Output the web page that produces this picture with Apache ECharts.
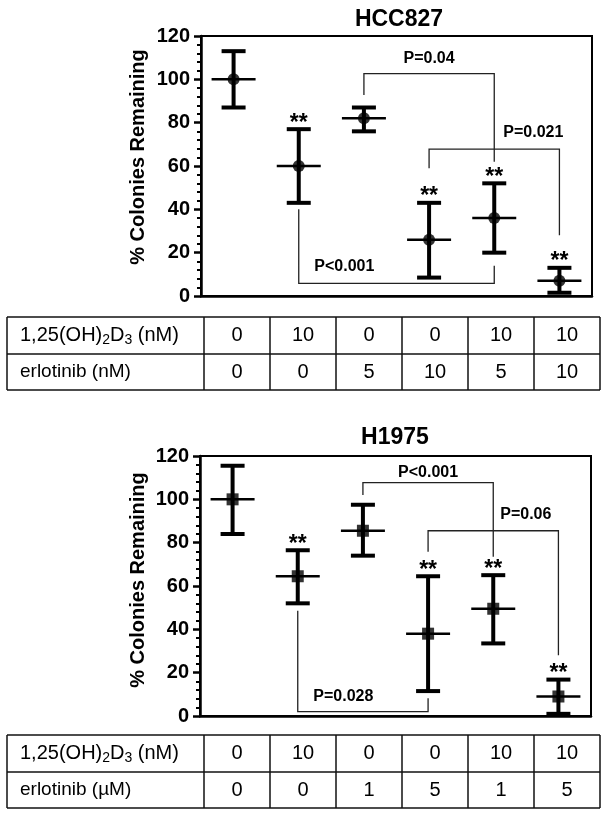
<!DOCTYPE html>
<html>
<head>
<meta charset="utf-8">
<script src="https://cdn.jsdelivr.net/npm/echarts@6/dist/echarts.min.js"></script>
<style>
  html, body { margin: 0; padding: 0; background: #fff; }
  #main { width: 604px; height: 816px; }
</style>
</head>
<body>
<div id="main"></div>
<script>
// treatment groups (one per column of the tables)
var categories = ['g1', 'g2', 'g3', 'g4', 'g5', 'g6'];

// HCC827 - % colonies remaining
var hccMean = [100, 60, 82, 26, 36, 7];
var hccLow = [87, 43, 76, 8.5, 20, 1.5];
var hccHigh = [113, 77, 87, 43, 52, 13];
var hccStars = [0, 1, 0, 1, 1, 1];
// brackets: [fromCat, toCat, barY, fromEndY, toEndY, textCat, textY]
var hccBrackets = [
  [2, 4, 102.6, 92.8, 62, 3, 109.8],
  [3, 5, 67.8, 59, 28, 4.6, 75.6],
  [1, 4, 5.8, 40, 14, 1.7, 13.5]
];
var hccBracketText = ['P=0.04', 'P=0.021', 'P<0.001'];
var hccD3 = ['0', '10', '0', '0', '10', '10'];
var hccErl = ['0', '0', '5', '10', '5', '10'];

// H1975
var h1975Mean = [100, 64.5, 85.5, 38, 49.5, 9];
var h1975Low = [84, 52, 74, 11.5, 33.5, 1];
var h1975High = [115.5, 76.5, 97.5, 64.5, 65, 16.8];
var h1975Stars = [0, 1, 0, 1, 1, 1];
var h1975Brackets = [
  [2, 4, 107.7, 102, 73.5, 3, 112.4],
  [3, 5, 85.5, 75.8, 28, 4.5, 92.8],
  [1, 3, 2, 48.6, 8.2, 1.7, 8.9]
];
var h1975BracketText = ['P<0.001', 'P=0.06', 'P=0.028'];
var h1975D3 = ['0', '10', '0', '0', '10', '10'];
var h1975Erl = ['0', '0', '1', '5', '1', '5'];

var yTicks = { min: 0, max: 120, interval: 20 };
var FONT = '"Liberation Sans", Arial, sans-serif';

var myChart = echarts.init(document.getElementById('main'));

function errData(mean, low, high, stars) {
  return mean.map(function (m, i) { return [i, m, low[i], high[i], stars[i]]; });
}

function renderErrorBar(params, api) {
  var x = api.value(0);
  var mid = api.coord([x, api.value(1)]);
  var lo = api.coord([x, api.value(2)]);
  var hi = api.coord([x, api.value(3)]);
  var cx = mid[0];
  var st = { stroke: '#000', lineWidth: 4 };
  var children = [
    { type: 'line', shape: { x1: cx, y1: lo[1], x2: cx, y2: hi[1] }, style: st },
    { type: 'line', shape: { x1: cx - 12, y1: lo[1], x2: cx + 12, y2: lo[1] }, style: st },
    { type: 'line', shape: { x1: cx - 12, y1: hi[1], x2: cx + 12, y2: hi[1] }, style: st },
    { type: 'line', shape: { x1: cx - 22, y1: mid[1], x2: cx + 22, y2: mid[1] }, style: { stroke: '#000', lineWidth: 2.5 } }
  ];
  if (api.value(4)) {
    children.push({
      type: 'text',
      style: { text: '**', x: cx, y: hi[1] - 6, align: 'center', verticalAlign: 'middle',
        font: 'bold 23px ' + FONT, fill: '#000' }
    });
  }
  return { type: 'group', children: children };
}

function makeBracketRenderer(texts) {
  return function (params, api) {
    var a = api.coord([api.value(0), api.value(2)]);
    var b = api.coord([api.value(1), api.value(2)]);
    var ea = api.coord([api.value(0), api.value(3)]);
    var eb = api.coord([api.value(1), api.value(4)]);
    var band = api.size([1, 0])[0];
    var tx = api.coord([0, 0])[0] + api.value(5) * band;
    var ty = api.coord([0, api.value(6)])[1];
    return {
      type: 'group',
      children: [
        { type: 'polyline', shape: { points: [ea, a, b, eb] },
          style: { stroke: '#222', lineWidth: 1.3, fill: null } },
        { type: 'text', style: { text: texts[params.dataIndex], x: tx, y: ty,
          align: 'center', verticalAlign: 'middle', font: 'bold 16px ' + FONT, fill: '#000' } }
      ]
    };
  };
}

// table under each panel, drawn as graphic
var colEdges = [7, 204, 270, 336, 402, 468, 534, 600];
function buildTable(rows, d3, erl, erlName) {
  var els = [];
  var ln = { stroke: '#111', lineWidth: 1.5 };
  rows.forEach(function (y) {
    els.push({ type: 'line', shape: { x1: colEdges[0], y1: y, x2: colEdges[7], y2: y }, style: ln });
  });
  colEdges.forEach(function (x) {
    els.push({ type: 'line', shape: { x1: x, y1: rows[0], x2: x, y2: rows[2] }, style: ln });
  });
  var y1 = (rows[0] + rows[1]) / 2, y2 = (rows[1] + rows[2]) / 2;
  els.push({
    type: 'text', x: 20, y: y1,
    style: {
      text: '{n|1,25(OH)}{s|2}{n|D}{s|3}{n| (nM)}',
      verticalAlign: 'middle', align: 'left',
      rich: {
        n: { fontSize: 20, fontFamily: FONT, lineHeight: 24, fill: '#000' },
        s: { fontSize: 14, fontFamily: FONT, lineHeight: 15, verticalAlign: 'bottom', fill: '#000' }
      }
    }
  });
  els.push({ type: 'text', x: 20, y: y2,
    style: { text: erlName, fontSize: 19, fontFamily: FONT, fill: '#000', verticalAlign: 'middle' } });
  for (var i = 0; i < 6; i++) {
    var cx = (colEdges[i + 1] + colEdges[i + 2]) / 2;
    els.push({ type: 'text', x: cx, y: y1,
      style: { text: d3[i], fontSize: 20, fontFamily: FONT, fill: '#000', align: 'center', verticalAlign: 'middle' } });
    els.push({ type: 'text', x: cx, y: y2,
      style: { text: erl[i], fontSize: 20, fontFamily: FONT, fill: '#000', align: 'center', verticalAlign: 'middle' } });
  }
  return els;
}

var graphics = []
  .concat(buildTable([317, 354, 390], hccD3, hccErl, 'erlotinib (nM)'))
  .concat(buildTable([735, 772, 808], h1975D3, h1975Erl, 'erlotinib (\u00b5M)'));
// y-axis names
graphics.push({ type: 'text', x: 138, y: 157, rotation: Math.PI / 2,
  style: { text: '% Colonies Remaining', font: 'bold 20px ' + FONT, fill: '#000', align: 'center', verticalAlign: 'middle' } });
graphics.push({ type: 'text', x: 138, y: 580, rotation: Math.PI / 2,
  style: { text: '% Colonies Remaining', font: 'bold 20px ' + FONT, fill: '#000', align: 'center', verticalAlign: 'middle' } });

function xAxisFor(idx) {
  return {
    gridIndex: idx, type: 'category', data: categories,
    axisLine: { lineStyle: { color: '#000', width: 2.5 } },
    axisTick: { alignWithLabel: true, length: 9, lineStyle: { color: '#000', width: 2.5 } },
    axisLabel: { show: false }
  };
}
function yAxisFor(idx) {
  return {
    gridIndex: idx, type: 'value', min: yTicks.min, max: yTicks.max, interval: yTicks.interval,
    axisLine: { show: true, lineStyle: { color: '#000', width: 2.5 } },
    axisTick: { show: true, length: 7, lineStyle: { color: '#000', width: 2.5 } },
    minorTick: { show: true, splitNumber: 5, length: 4, lineStyle: { color: '#000', width: 2 } },
    splitLine: { show: false },
    axisLabel: { fontSize: 20, fontWeight: 'bold', color: '#000', fontFamily: FONT, margin: 11 }
  };
}

var option = {
  backgroundColor: '#fff',
  animation: false,
  title: [
    { text: 'HCC827', left: 394, top: 3, textAlign: 'center',
      textStyle: { fontSize: 23, fontWeight: 'bold', color: '#000', fontFamily: FONT } },
    { text: 'H1975', left: 390, top: 421, textAlign: 'center',
      textStyle: { fontSize: 23, fontWeight: 'bold', color: '#000', fontFamily: FONT } }
  ],
  grid: [
    { left: 201, top: 36, width: 391, height: 260, show: true, borderColor: '#000', borderWidth: 2 },
    { left: 200, top: 456, width: 391, height: 260, show: true, borderColor: '#000', borderWidth: 2 }
  ],
  xAxis: [xAxisFor(0), xAxisFor(1)],
  yAxis: [yAxisFor(0), yAxisFor(1)],
  series: [
    { type: 'custom', name: 'HCC827 SD', xAxisIndex: 0, yAxisIndex: 0, z: 3,
      renderItem: renderErrorBar, encode: { x: 0, y: [1, 2, 3] },
      data: errData(hccMean, hccLow, hccHigh, hccStars) },
    { type: 'scatter', name: 'HCC827', xAxisIndex: 0, yAxisIndex: 0, z: 4,
      symbol: 'circle', symbolSize: 12, itemStyle: { color: '#000' },
      data: hccMean.map(function (v, i) { return [i, v]; }) },
    { type: 'custom', name: 'HCC827 P', xAxisIndex: 0, yAxisIndex: 0, z: 2,
      renderItem: makeBracketRenderer(hccBracketText), encode: { x: 0, y: 2 },
      data: hccBrackets },
    { type: 'custom', name: 'H1975 SD', xAxisIndex: 1, yAxisIndex: 1, z: 3,
      renderItem: renderErrorBar, encode: { x: 0, y: [1, 2, 3] },
      data: errData(h1975Mean, h1975Low, h1975High, h1975Stars) },
    { type: 'scatter', name: 'H1975', xAxisIndex: 1, yAxisIndex: 1, z: 4,
      symbol: 'rect', symbolSize: 12, itemStyle: { color: '#000' },
      data: h1975Mean.map(function (v, i) { return [i, v]; }) },
    { type: 'custom', name: 'H1975 P', xAxisIndex: 1, yAxisIndex: 1, z: 2,
      renderItem: makeBracketRenderer(h1975BracketText), encode: { x: 0, y: 2 },
      data: h1975Brackets }
  ],
  graphic: { elements: graphics }
};
myChart.setOption(option);
</script>
</body>
</html>
